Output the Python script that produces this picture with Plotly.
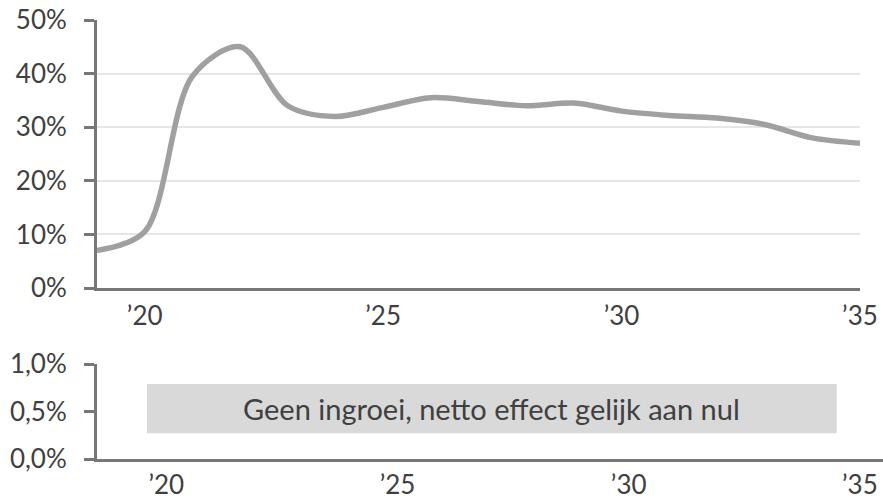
import plotly.graph_objects as go

# Data
years = list(range(2019, 2036))
share = [0.070, 0.105, 0.395, 0.450, 0.340, 0.320, 0.337, 0.355, 0.348,
         0.340, 0.345, 0.330, 0.322, 0.317, 0.305, 0.280, 0.270]
x_tickvals = [2020, 2025, 2030, 2035]
x_ticktext = ["\u201920", "\u201925", "\u201930", "\u201935"]
note_text = "Geen ingroei, netto effect gelijk aan nul"
note_x = [2019.58, 2034.5]
note_y = [0.0027, 0.0079]

FONT = "Lato, 'Open Sans', sans-serif"
AXC = "#777777"
TXT = "#404040"
TICKSIZE = 26

fig = go.Figure()
fig.add_trace(go.Scatter(
    x=years, y=share, mode="lines",
    line=dict(color="#a0a0a0", width=5.5, shape="spline", smoothing=0.9),
    xaxis="x", yaxis="y", showlegend=False, hoverinfo="skip", cliponaxis=False,
))
fig.add_trace(go.Scatter(x=[2020], y=[None], mode="lines", xaxis="x2", yaxis="y2",
                         showlegend=False, hoverinfo="skip"))

fig.add_shape(type="rect", xref="x2", yref="y2",
              x0=note_x[0], x1=note_x[1], y0=note_y[0], y1=note_y[1],
              fillcolor="#d9d9d9", line=dict(width=0), layer="below")
fig.add_annotation(xref="x2", yref="y2", x=(note_x[0] + note_x[1]) / 2,
                   y=(note_y[0] + note_y[1]) / 2, text=note_text, showarrow=False,
                   font=dict(size=29, color=TXT, family=FONT))

axis_common = dict(showline=True, linecolor=AXC, linewidth=3, automargin=False,
                   tickfont=dict(size=TICKSIZE, color=TXT, family=FONT))

fig.update_layout(
    width=883, height=499,
    margin=dict(l=97, r=0, t=20, b=40, autoexpand=False),
    paper_bgcolor="white", plot_bgcolor="white",
    separators=",.",
    font=dict(family=FONT, color=TXT),
    xaxis=dict(domain=[0, 0.9707], range=[2019, 2035], anchor="y",
               tickvals=x_tickvals, ticktext=x_ticktext, ticks="",
               ticklabelstandoff=3,
               showgrid=False, zeroline=False, **axis_common),
    yaxis=dict(domain=[0.3895, 1.0], range=[0, 0.5], anchor="x",
               tickvals=[0, 0.1, 0.2, 0.3, 0.4, 0.5], tickformat=".0%",
               ticks="outside", ticklen=10, tickwidth=3, tickcolor=AXC,
               ticklabelstandoff=12,
               showgrid=True, gridcolor="#e6e6e6", gridwidth=1.5,
               zeroline=False, **axis_common),
    xaxis2=dict(domain=[0, 1], range=[2018.5, 2035.5], anchor="y2",
                tickvals=x_tickvals, ticktext=x_ticktext, ticks="",
                ticklabelstandoff=1,
                showgrid=False, zeroline=False, **axis_common),
    yaxis2=dict(domain=[0, 0.2164], range=[0, 0.01], anchor="x2",
                tickvals=[0, 0.005, 0.01], tickformat=".1%",
                ticks="outside", ticklen=10, tickwidth=3, tickcolor=AXC,
                ticklabelstandoff=12,
                showgrid=False, zeroline=False, **axis_common),
)

fig.write_html(
    "out.html",
    config={"displayModeBar": False},
    post_script="document.body.style.margin='0';document.body.style.overflow='hidden';",
)
